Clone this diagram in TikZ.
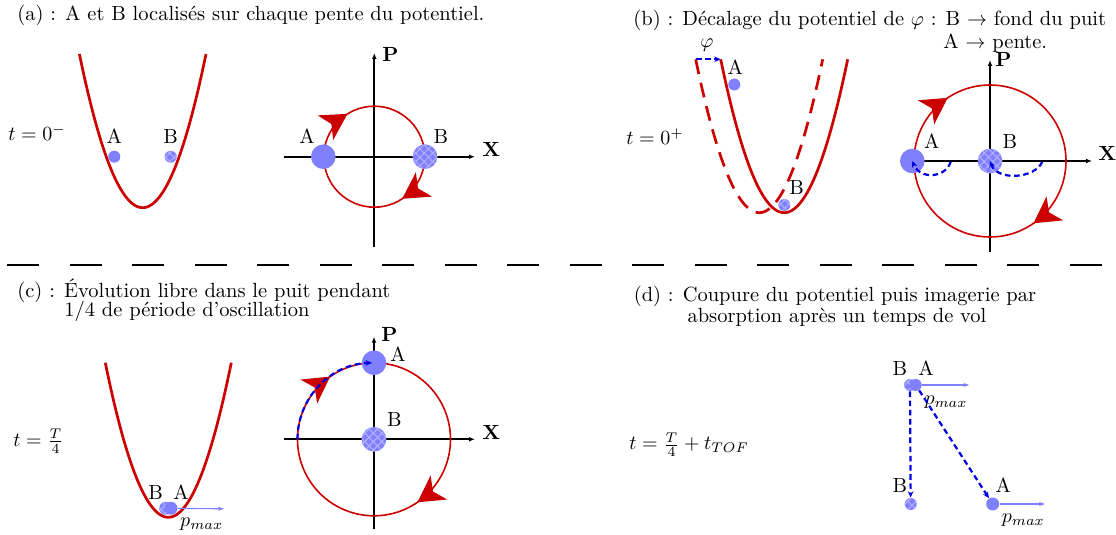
\documentclass[tikz,border=0pt]{standalone}
\usepackage{fontspec}
\usetikzlibrary{arrows.meta,patterns.meta,decorations.markings}
\definecolor{dred}{HTML}{CC0000}
\definecolor{lblue}{HTML}{8080FF}
\definecolor{hblue}{HTML}{B0B0FF}
\definecolor{dblue}{HTML}{0000E0}
\tikzset{
  redtip/.tip={Stealth[length=13pt,width=14.5pt,inset=3.5pt]},
  axis/.style={line width=1pt,-{Latex[length=3pt,width=2.4pt]}},
  orbit/.style={draw=dred,line width=0.8pt},
  pot/.style={draw=dred,line width=1.35pt},
  dpot/.style={pot,dash pattern=on 7.5pt off 4.5pt},
  dotA/.style={circle,fill=lblue,inner sep=0pt},
  dotB/.style={circle,fill=lblue,inner sep=0pt,
    postaction={pattern={Lines[angle=45,distance=3pt,line width=0.55pt]},pattern color=hblue},
    postaction={pattern={Lines[angle=-45,distance=3pt,line width=0.55pt]},pattern color=hblue}},
  small/.style={minimum size=6pt},
  big/.style={minimum size=12.3pt},
  bluedash/.style={draw=dblue,line width=1.1pt,dash pattern=on 2.8pt off 1.8pt,-{Stealth[length=3.2pt,width=2.8pt]}},
  pmax/.style={draw=lblue,line width=0.55pt,-{Stealth[length=3pt,width=2pt]}},
  sepline/.style={line width=1.35pt,dash pattern=on 15.85pt off 15.4pt},
  lab/.style={inner sep=0pt,anchor=base},
  txt/.style={inner sep=0pt,anchor=base west},
  tlabel/.style={inner sep=0pt,anchor=base west},
  orbitarrows/.style 2 args={postaction={decorate},decoration={markings,
    mark=at position #1 with {\arrow{redtip}},mark=at position #2 with {\arrow{redtip}}}}
}
\begin{document}
\begin{tikzpicture}[x=0.5pt,y=-0.5pt,font=\fontsize{10.25pt}{12.3pt}\selectfont]
\useasboundingbox (0,0) rectangle (1116,535);

% ---------------- (a) ----------------
\node[txt] (ta) at (17,21) {(a) : A et B localisés sur chaque pente du potentiel.};
\node[tlabel] (tla) at (8,141) {$t=0^-$};
\draw[pot] plot[domain=-63.3:63.3,samples=61] ({142.7+\x},{207.7-153.7*(\x/63.3)^2});
\node[dotA,small] (a1A) at (114.3,156.7) {};
\node[dotB,small] (a1B) at (170.7,156.7) {};
\node[lab] (a1Al) at (114.3,144) {A};
\node[lab] (a1Bl) at (170.7,144) {B};

\coordinate (Oa) at (374.3,156.7);
\coordinate (aX0) at (284,156.7);
\coordinate (aX1) at (475,156.7);
\coordinate (aP0) at (374.3,246.7);
\coordinate (aP1) at (374.3,53);
\draw[axis] (aX0) -- (aX1);
\draw[axis] (aP0) -- (aP1);
\node[txt] (aXl) at (482,157) {\textbf{X}};
\node[txt] (aPl) at (382,62) {\textbf{P}};
\draw[orbit,orbitarrows={0.157}{0.661}] (Oa) circle (50.5);
\node[dotA,big] (a2A) at (323.3,156.7) {};
\node[dotB,big] (a2B) at (425,156.7) {};
\node[lab] (a2Al) at (307,144) {A};
\node[lab] (a2Bl) at (441,144) {B};

% ---------------- (b) ----------------
\node[txt] (tb1) at (633,26) {(b) : Décalage du potentiel de $\varphi$ : B $\rightarrow$ fond du puit};
\node[txt] (tb2) at (943,49) {A $\rightarrow$ pente.};
\node[tlabel] (tlb) at (626,145) {$t=0^+$};
\draw[dpot] plot[domain=-63.5:63.5,samples=61] ({759.2+\x},{212.7-153.4*(\x/63.5)^2});
\draw[pot] plot[domain=-63.5:63.5,samples=61] ({784.2+\x},{212.7-153.4*(\x/63.5)^2});
\coordinate (phi0) at (696,59.3);
\coordinate (phi1) at (720.7,59.3);
\draw[bluedash] (phi0) -- (phi1);
\node (phil) at (707,45) {$\varphi$};
\node[dotA,small] (b1A) at (734.3,84.5) {};
\node[dotB,small] (b1B) at (784.3,205) {};
\node[lab] (b1Al) at (735.3,74.3) {A};
\node[lab] (b1Bl) at (796.7,194.3) {B};

\coordinate (Ob) at (990,161);
\coordinate (bX0) at (900,161);
\coordinate (bX1) at (1092,161);
\coordinate (bP0) at (990,251.7);
\coordinate (bP1) at (990,60);
\draw[axis] (bX0) -- (bX1);
\draw[axis] (bP0) -- (bP1);
\node[txt] (bXl) at (1098,161) {\textbf{X}};
\node[txt] (bPl) at (995,67) {\textbf{P}};
\draw[orbit,orbitarrows={0.153}{0.656}] (Ob) circle (76);
\node[dotA,big] (b2A) at (912.3,161) {};
\node[dotB,big] (b2B) at (990,161) {};
\node[lab] (b2Al) at (931.7,148.3) {A};
\node[lab] (b2Bl) at (1010,148.3) {B};
\coordinate (bs1) at (950.7,161.7);
\coordinate (bs2) at (1042.3,161.7);
\draw[bluedash] (bs1) .. controls (946,178) and (920,180) .. (b2A.center);
\draw[bluedash] (bs2) .. controls (1035,179) and (997,181) .. (b2B.center);

% separator
\coordinate (s0) at (7.3,265);
\coordinate (s1) at (1101.5,265);
\draw[sepline] (s0) -- (s1);

% ---------------- (c) ----------------
\node[txt] (tc1) at (17,298) {(c) : Évolution libre dans le puit pendant};
\node[txt] (tc2) at (64,317) {1/4 de période d'oscillation};
\node[tlabel] (tlc) at (13,446.7) {$t=\frac{T}{4}$};
\draw[pot] plot[domain=-63:63,samples=61] ({168.3+\x},{517.3-154.6*(\x/63)^2});
\node[dotB,minimum size=6.5pt] (c1B) at (165.7,508.3) {};
\node[dotA,minimum size=6.5pt] (c1A) at (171,508.3) {};
\node[lab] (c1Bl) at (155.7,500) {B};
\node[lab] (c1Al) at (181,500) {A};
\coordinate (c1E) at (224,508.8);
\draw[pmax] (c1A) -- (c1E);
\node (c1P) at (201.7,524) {$p_{max}$};

\coordinate (Oc) at (374,439.3);
\coordinate (cX0) at (284,439.3);
\coordinate (cX1) at (475,439.3);
\coordinate (cP0) at (374,529.3);
\coordinate (cP1) at (374,336.7);
\draw[axis] (cX0) -- (cX1);
\draw[axis] (cP0) -- (cP1);
\node[txt] (cXl) at (482,439.3) {\textbf{X}};
\node[txt] (cPl) at (381,342) {\textbf{P}};
\draw[orbit,orbitarrows={0.154}{0.653}] (Oc) circle (76.5);
\node[dotA,big] (c2A) at (374,362.8) {};
\node[dotB,big] (c2B) at (374,439.3) {};
\node[lab] (c2Al) at (398,361.5) {A};
\node[lab] (c2Bl) at (394.3,426.7) {B};
\draw[bluedash] ([shift={(-180:76.5)}]Oc) arc (-180:-91.5:76.5);

% ---------------- (d) ----------------
\node[inner sep=0pt,anchor=base] (td1) at (835,302) {(d) : Coupure du potentiel puis imagerie par};
\node[inner sep=0pt,anchor=base] (td2) at (837,322) {absorption après un temps de vol};
\node[tlabel] (tld) at (629,450) {$t=\frac{T}{4}+t_{TOF}$};
\node[dotB,small] (d1B) at (910,385) {};
\node[dotA,small] (d1A) at (915.7,385) {};
\node[lab] (d1Bl) at (900,376) {B};
\node[lab] (d1Al) at (926,376) {A};
\coordinate (d1E) at (969.3,385);
\draw[pmax] (d1A) -- (d1E);
\node (d1P) at (946,402.5) {$p_{max}$};
\node[dotB,small] (d2B) at (910.7,504) {};
\node[dotA,minimum size=6.5pt] (d2A) at (992.7,504) {};
\node[lab] (d2Bl) at (900,492.7) {B};
\node[lab] (d2Al) at (1003.3,492.7) {A};
\coordinate (d2E) at (1045,504);
\draw[pmax] (d2A) -- (d2E);
\node (d2P) at (1023.3,520) {$p_{max}$};
\draw[bluedash] (d1B) -- (d2B);
\draw[bluedash] (d1A) -- (d2A);
\end{tikzpicture}
\end{document}
